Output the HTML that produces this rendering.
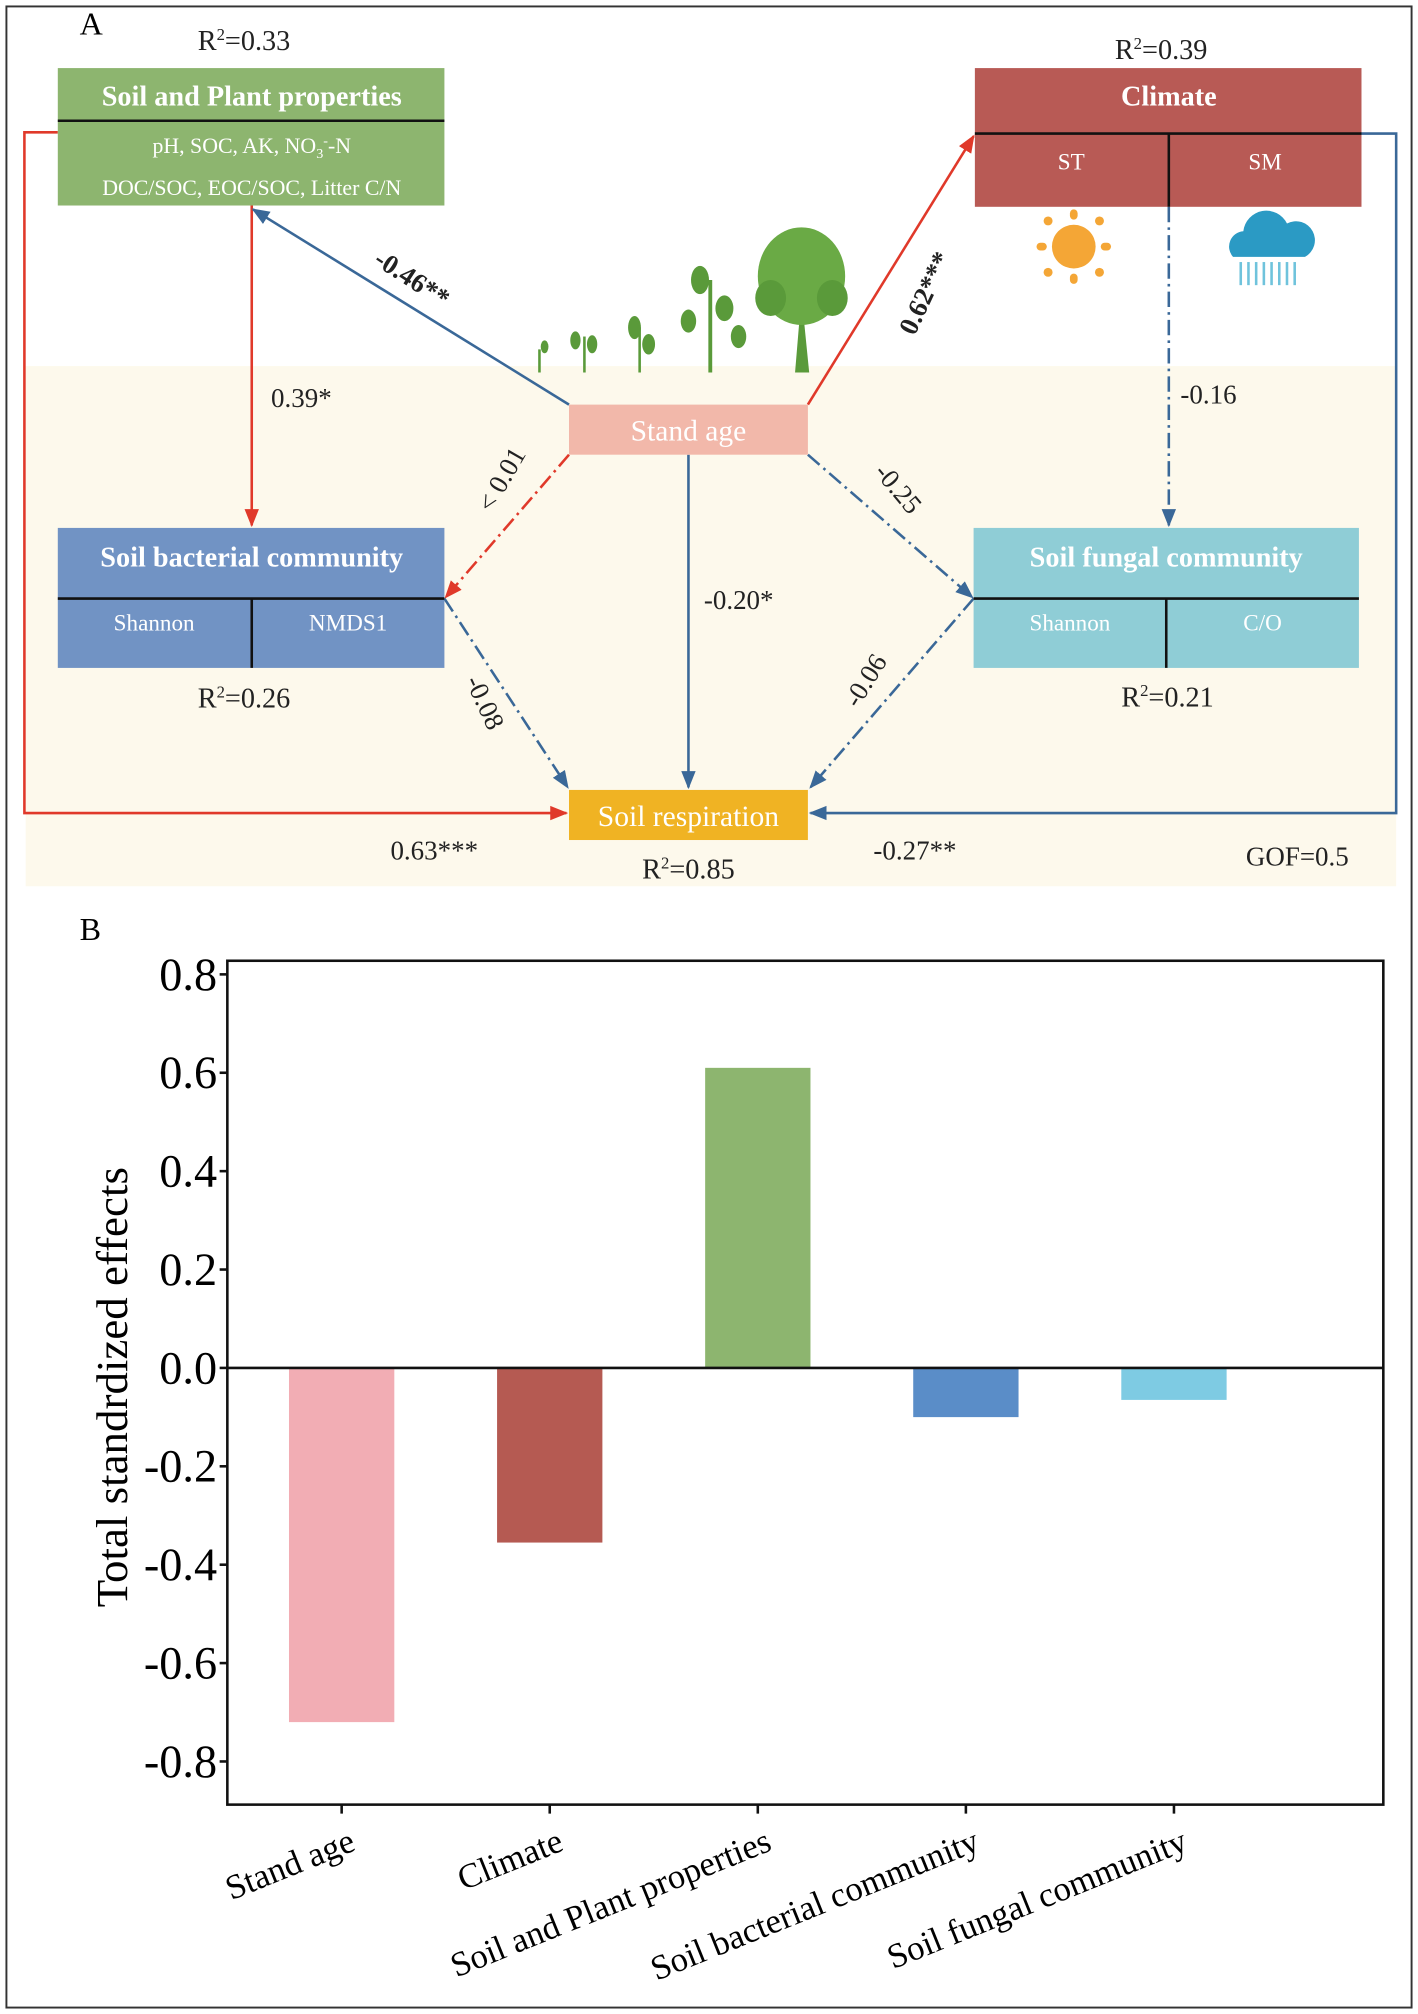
<!DOCTYPE html>
<html><head><meta charset="utf-8"><style>
html,body{margin:0;padding:0;background:#fff}
svg{display:block}
text{font-family:"Liberation Serif",serif}
</style></head><body>
<svg id="fig" width="1418" height="2014" viewBox="0 0 1104 1568" xmlns="http://www.w3.org/2000/svg">
<defs>
<marker id="ar" viewBox="0 0 10 10" refX="9" refY="5" markerWidth="7" markerHeight="7" orient="auto"><path d="M0,1 L10,5 L0,9 Z" fill="#e0392a"/></marker>
<marker id="ab" viewBox="0 0 10 10" refX="9" refY="5" markerWidth="7" markerHeight="7" orient="auto"><path d="M0,1 L10,5 L0,9 Z" fill="#3a6898"/></marker>
</defs>
<rect x="5" y="5" width="1094" height="1558" fill="#fff" stroke="#333" stroke-width="1.5"/>
<g>
<rect x="20" y="285" width="1067" height="405" fill="#fdf9ec"/>
<text x="62" y="27" font-size="25">A</text>
<g fill="none" stroke-width="2">
<polyline points="45,103 19,103 19,633 441,633" stroke="#e0392a" marker-end="url(#ar)"/>
<line x1="196" y1="160" x2="196" y2="409" stroke="#e0392a" marker-end="url(#ar)"/>
<line x1="443" y1="315" x2="197" y2="163" stroke="#3a6898" marker-end="url(#ab)"/>
<line x1="629" y1="315" x2="758" y2="106" stroke="#e0392a" marker-end="url(#ar)"/>
<line x1="910" y1="161" x2="910" y2="409" stroke="#3a6898" stroke-dasharray="12,4,2,4" marker-end="url(#ab)"/>
<polyline points="1060,104 1087,104 1087,633 631,633" stroke="#3a6898" marker-end="url(#ab)"/>
<line x1="443" y1="354" x2="347" y2="465" stroke="#e0392a" stroke-dasharray="12,4,2,4" marker-end="url(#ar)"/>
<line x1="629" y1="354" x2="757" y2="465" stroke="#3a6898" stroke-dasharray="12,4,2,4" marker-end="url(#ab)"/>
<line x1="536" y1="354" x2="536" y2="613" stroke="#3a6898" marker-end="url(#ab)"/>
<line x1="346" y1="466" x2="442" y2="613" stroke="#3a6898" stroke-dasharray="12,4,2,4" marker-end="url(#ab)"/>
<line x1="758" y1="466" x2="631" y2="613" stroke="#3a6898" stroke-dasharray="12,4,2,4" marker-end="url(#ab)"/>
</g>
<g>
<rect x="45" y="53" width="301" height="107" fill="#8db56f"/>
<line x1="45" y1="94" x2="346" y2="94" stroke="#111" stroke-width="2"/>
<text x="196" y="82" font-size="22" font-weight="bold" fill="#fff" text-anchor="middle">Soil and Plant properties</text>
<text x="196" y="119" font-size="17" fill="#fff" text-anchor="middle">pH, SOC, AK, NO<tspan font-size="11" dy="4">3</tspan><tspan font-size="11" dy="-10">-</tspan><tspan dy="6">-N</tspan></text>
<text x="196" y="152" font-size="17" fill="#fff" text-anchor="middle">DOC/SOC, EOC/SOC, Litter C/N</text>
</g>
<g>
<rect x="759" y="53" width="301" height="108" fill="#b85a55"/>
<line x1="759" y1="104" x2="1060" y2="104" stroke="#111" stroke-width="2"/>
<line x1="910" y1="104" x2="910" y2="161" stroke="#111" stroke-width="2"/>
<text x="910" y="82" font-size="22" font-weight="bold" fill="#fff" text-anchor="middle">Climate</text>
<text x="834" y="132" font-size="18" fill="#fff" text-anchor="middle">ST</text>
<text x="985" y="132" font-size="18" fill="#fff" text-anchor="middle">SM</text>
</g>
<g>
<rect x="443" y="315" width="186" height="39" fill="#f2b8aa"/>
<text x="536" y="343" font-size="23" fill="#fff" text-anchor="middle">Stand age</text>
</g>
<g>
<rect x="45" y="411" width="301" height="109" fill="#7193c4"/>
<line x1="45" y1="466" x2="346" y2="466" stroke="#111" stroke-width="2"/>
<line x1="196" y1="466" x2="196" y2="520" stroke="#111" stroke-width="2"/>
<text x="196" y="441" font-size="22" font-weight="bold" fill="#fff" text-anchor="middle">Soil bacterial community</text>
<text x="120" y="491" font-size="18" fill="#fff" text-anchor="middle">Shannon</text>
<text x="271" y="491" font-size="18" fill="#fff" text-anchor="middle">NMDS1</text>
</g>
<g>
<rect x="758" y="411" width="300" height="109" fill="#8fcdd6"/>
<line x1="758" y1="466" x2="1058" y2="466" stroke="#111" stroke-width="2"/>
<line x1="908" y1="466" x2="908" y2="520" stroke="#111" stroke-width="2"/>
<text x="908" y="441" font-size="22" font-weight="bold" fill="#fff" text-anchor="middle">Soil fungal community</text>
<text x="833" y="491" font-size="18" fill="#fff" text-anchor="middle">Shannon</text>
<text x="983" y="491" font-size="18" fill="#fff" text-anchor="middle">C/O</text>
</g>
<g>
<rect x="443" y="615" width="186" height="39" fill="#f0b323"/>
<text x="536" y="643" font-size="23" fill="#fff" text-anchor="middle">Soil respiration</text>
</g>
<g font-size="22" fill="#222" text-anchor="middle">
<text x="190" y="39">R<tspan font-size="13" dy="-8">2</tspan><tspan dy="8">=0.33</tspan></text>
<text x="904" y="46">R<tspan font-size="13" dy="-8">2</tspan><tspan dy="8">=0.39</tspan></text>
<text x="190" y="551">R<tspan font-size="13" dy="-8">2</tspan><tspan dy="8">=0.26</tspan></text>
<text x="909" y="550">R<tspan font-size="13" dy="-8">2</tspan><tspan dy="8">=0.21</tspan></text>
<text x="536" y="684">R<tspan font-size="13" dy="-8">2</tspan><tspan dy="8">=0.85</tspan></text>
</g>
<g font-size="21" fill="#222">
<text x="0" y="0" transform="translate(290,205) rotate(33)" font-weight="bold">-0.46**</text>
<text x="0" y="0" transform="translate(712,262) rotate(-65)" font-weight="bold">0.62***</text>
<text x="211" y="317">0.39*</text>
<text x="919" y="314">-0.16</text>
<text x="0" y="0" transform="translate(383,400) rotate(-60)">&lt; 0.01</text>
<text x="0" y="0" transform="translate(680,368) rotate(50)">-0.25</text>
<text x="548" y="474">-0.20*</text>
<text x="0" y="0" transform="translate(362,530) rotate(65)">-0.08</text>
<text x="0" y="0" transform="translate(668,552) rotate(-58)">-0.06</text>
<text x="304" y="669">0.63***</text>
<text x="680" y="669">-0.27**</text>
<text x="970" y="674">GOF=0.5</text>
</g>
<g fill="#f4a636">
<circle cx="836" cy="192" r="17"/>
<rect x="833" y="163" width="6" height="8" rx="3"/><rect x="833" y="213" width="6" height="8" rx="3"/>
<rect x="807" y="189" width="8" height="6" rx="3"/><rect x="857" y="189" width="8" height="6" rx="3"/>
<circle cx="816" cy="172" r="3.5"/><circle cx="856" cy="172" r="3.5"/><circle cx="816" cy="212" r="3.5"/><circle cx="856" cy="212" r="3.5"/>
</g>
<g>
<path d="M960,200 a12,12 0 0 1 8,-20 a18,18 0 0 1 34,-6 a12,12 0 0 1 14,26 Z" fill="#2b9ac4"/>
<g stroke="#6fc3dc" stroke-width="2"><line x1="966" y1="204" x2="966" y2="222"/><line x1="972" y1="204" x2="972" y2="222"/><line x1="978" y1="204" x2="978" y2="222"/><line x1="984" y1="204" x2="984" y2="222"/><line x1="990" y1="204" x2="990" y2="222"/><line x1="996" y1="204" x2="996" y2="222"/><line x1="1002" y1="204" x2="1002" y2="222"/><line x1="1008" y1="204" x2="1008" y2="222"/></g>
</g>
<g fill="#5a9a3a" stroke="#5a9a3a">
<line x1="420" y1="290" x2="420" y2="272" stroke-width="2"/><ellipse cx="424" cy="270" rx="3" ry="5" stroke="none"/>
<line x1="455" y1="290" x2="455" y2="262" stroke-width="2"/><ellipse cx="448" cy="265" rx="4" ry="7" stroke="none"/><ellipse cx="461" cy="268" rx="4" ry="7" stroke="none"/>
<line x1="498" y1="290" x2="498" y2="255" stroke-width="2"/><ellipse cx="494" cy="255" rx="5" ry="9" stroke="none"/><ellipse cx="505" cy="268" rx="5" ry="8" stroke="none"/>
<line x1="553" y1="290" x2="553" y2="218" stroke-width="3"/><ellipse cx="545" cy="218" rx="7" ry="11" stroke="none"/><ellipse cx="564" cy="240" rx="7" ry="10" stroke="none"/><ellipse cx="536" cy="250" rx="6" ry="9" stroke="none"/><ellipse cx="575" cy="262" rx="6" ry="9" stroke="none"/>
<path d="M619,290 L624,230 L630,290 Z" stroke="none"/>
<ellipse cx="624" cy="215" rx="34" ry="38" stroke="none" fill="#6aaa45"/>
<ellipse cx="600" cy="232" rx="12" ry="14" stroke="none"/><ellipse cx="648" cy="232" rx="12" ry="14" stroke="none"/>
</g>
</g>
<g id="chartB">
<text x="62" y="732" font-size="25">B</text>
</g>
<script>
const categories=["Stand age","Climate","Soil and Plant properties","Soil bacterial community","Soil fungal community"];
const values=[-0.72,-0.355,0.61,-0.10,-0.065];
const colors=["#f2adb4","#b55a52","#8db56f","#5a8dc8","#7ecbe3"];
const tickValues=[0.8,0.6,0.4,0.2,0.0,-0.2,-0.4,-0.6,-0.8];
const tickLabels=["0.8","0.6","0.4","0.2","0.0","-0.2","-0.4","-0.6","-0.8"];
const NS="http://www.w3.org/2000/svg";
const g=document.getElementById('chartB');
const L=177,R=1077,T=748,B=1405;
function y(v){return 1065-v*383;}
function xc(i){return 266+i*162;}
function mk(t,a,parent){const e=document.createElementNS(NS,t);for(const k in a)e.setAttribute(k,a[k]);(parent||g).appendChild(e);return e;}
const frame=mk('rect',{x:L,y:T,width:R-L,height:B-T,fill:'none',stroke:'#111','stroke-width':2});


values.forEach((v,i)=>{
 const r=mk('rect',{x:xc(i)-41,y:Math.min(y(v),y(0)),width:82,height:Math.abs(y(v)-y(0)),fill:colors[i]});
 
 
 const tk=mk('line',{x1:xc(i),x2:xc(i),y1:B,y2:B+7,stroke:'#111','stroke-width':2});
 
 
 const t=mk('text',{x:0,y:0,'font-size':27,'text-anchor':'end',transform:`translate(${xc(i)+12},${B+35}) rotate(-22)`});
 t.textContent=categories[i];
 
 
});
const zl=mk('line',{x1:L,x2:R,y1:y(0),y2:y(0),stroke:'#111','stroke-width':2});


tickValues.forEach((v,i)=>{
 const tk=mk('line',{x1:L-6,x2:L,y1:y(v),y2:y(v),stroke:'#111','stroke-width':2});
 
 
 const t=mk('text',{x:L-8,y:y(v)+12,'font-size':36,'text-anchor':'end'});
 t.textContent=tickLabels[i];
 
 
});
const yt=mk('text',{x:0,y:0,'font-size':35,'text-anchor':'middle',transform:'translate(99,1080) rotate(-90)'});
yt.textContent='Total standrdized effects';


</script>
</svg>
</body></html>
